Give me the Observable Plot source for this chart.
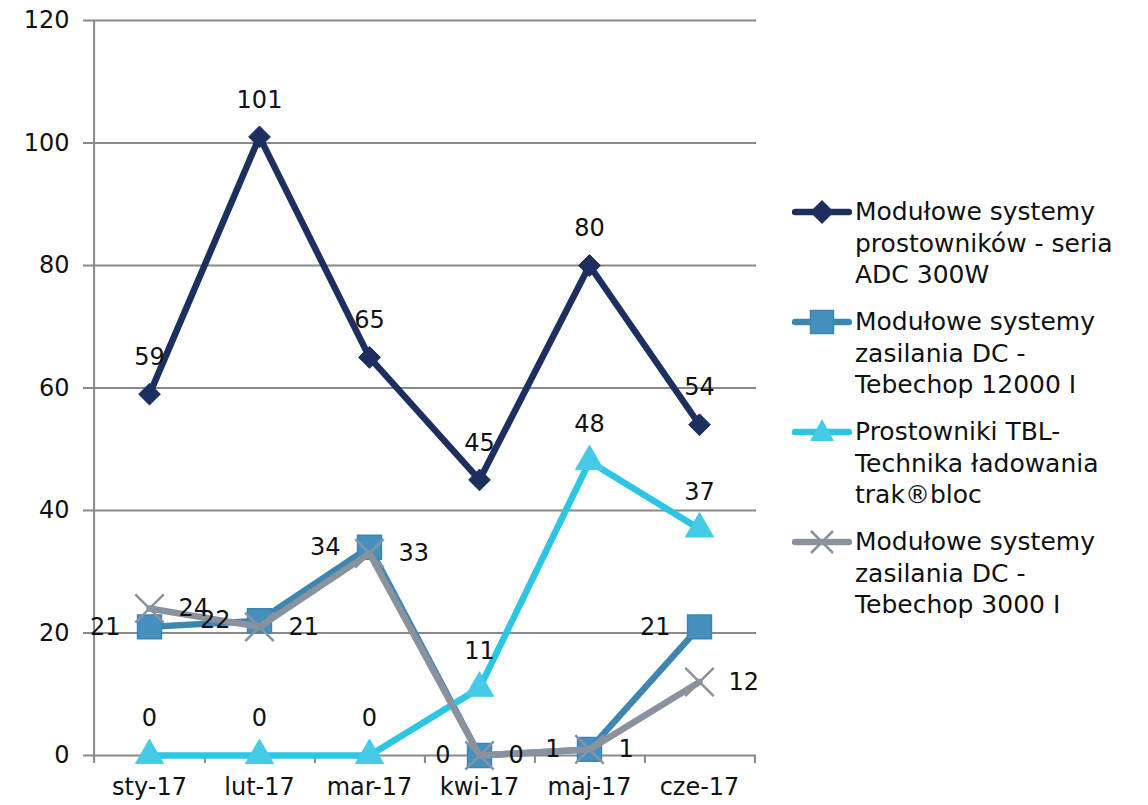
<!DOCTYPE html>
<html><head><meta charset="utf-8">
<script src="https://cdn.jsdelivr.net/npm/d3@7"></script>
<script src="https://cdn.jsdelivr.net/npm/@observablehq/plot@0.6"></script>
<style>
body{margin:0;background:#fff;font-family:"DejaVu Sans",sans-serif;}
#wrap{display:flex;width:1148px;height:805px;}
#legend{padding-top:196px;padding-left:12px;}
.item{display:flex;align-items:flex-start;margin-bottom:15.5px;}
.item svg{flex:none;}
.item div{font-size:25px;line-height:31.5px;color:#111;margin-left:3px;white-space:nowrap;}
</style></head>
<body><div id="wrap"><div id="chart"></div><div id="legend"></div></div>
<script>
const months = ["sty-17","lut-17","mar-17","kwi-17","maj-17","cze-17"];
const seriesNames = [
  "Modułowe systemy\nprostowników - seria\nADC 300W",
  "Modułowe systemy\nzasilania DC -\nTebechop 12000 I",
  "Prostowniki TBL-\nTechnika ładowania\ntrak®bloc",
  "Modułowe systemy\nzasilania DC -\nTebechop 3000 I"
];
const adc300 = [59,101,65,45,80,54];
const tebechop12000 = [21,22,34,0,1,21];
const tblTrakbloc = [0,0,0,11,48,37];
const tebechop3000 = [24,21,33,0,1,12];
const yTicks = [0,20,40,60,80,100,120];

const colors = ["#1d2f5e","#3d86b0","#2cc5e4","#8a939d"];
const markerFill = ["#1d2f5e","#4690c0","#45cbe8","#8a939d"];
const values = [adc300, tebechop12000, tblTrakbloc, tebechop3000];
const data = values.flatMap((vals, s) => vals.map((v, i) => ({s, month: months[i], v})));

const W = 780, H = 805, mL = 91, mR = 24, mT = 20, mB = 50;
const bw = (W - mL - mR) / months.length;
const gray = "#888888";

const labelOpts = [
  {dy: -37, dx: 0, textAnchor: "middle"},
  {dx: -29, dy: 0, textAnchor: "end"},
  {dy: -37, dx: 0, textAnchor: "middle"},
  {dx: 29, dy: 0, textAnchor: "start"}
];

const marks = [
  Plot.ruleY(yTicks, {stroke: gray, strokeWidth: 2}),
  Plot.ruleX([months[0]], {y1: 0, y2: 120, dx: -bw/2, stroke: gray, strokeWidth: 2}),
  Plot.ruleX(months, {y1: 0, y2: 0, dx: bw/2, insetBottom: -8, stroke: gray, strokeWidth: 2}),
  Plot.ruleX([months[0]], {y1: 0, y2: 0, dx: -bw/2, insetBottom: -8, stroke: gray, strokeWidth: 2}),
  Plot.axisY({ticks: yTicks, tickSize: 8, tickPadding: 14, stroke: gray, strokeWidth: 2, fontSize: 24, fill: "#111", label: null}),
  Plot.axisX({tickSize: 0, tickPadding: 22, fontSize: 24, fill: "#111", label: null})
];
values.forEach((vals, s) => {
  const d = data.filter(r => r.s === s);
  marks.push(Plot.line(d, {x: "month", y: "v", stroke: colors[s], strokeWidth: 6.5, strokeLinejoin: "round"}));
  if (s === 0) marks.push(Plot.dot(d, {x: "month", y: "v", symbol: "diamond2", r: 9.8, fill: markerFill[s], stroke: markerFill[s], strokeWidth: 1}));
  if (s === 1) marks.push(Plot.dot(d, {x: "month", y: "v", symbol: "square", r: 13.5, fill: markerFill[s], stroke: colors[s], strokeWidth: 1.5}));
  if (s === 2) marks.push(Plot.dot(d, {x: "month", y: "v", symbol: "triangle", r: 10.5, fill: markerFill[s], stroke: markerFill[s], strokeWidth: 1}));
  if (s === 3) marks.push(Plot.dot(d, {x: "month", y: "v", symbol: "times", r: 13, stroke: colors[s], strokeWidth: 2.5}));
});
values.forEach((vals, s) => {
  const d = data.filter(r => r.s === s);
  marks.push(Plot.text(d, {x: "month", y: "v", text: r => String(r.v), fontSize: 24, fill: "#111", ...labelOpts[s]}));
});

const chart = Plot.plot({
  width: W, height: H,
  marginLeft: mL, marginRight: mR, marginTop: mT, marginBottom: mB,
  style: {fontFamily: "DejaVu Sans, sans-serif", background: "#fff"},
  x: {type: "band", domain: months, padding: 0},
  y: {domain: [0, 120]},
  marks
});
document.getElementById("chart").appendChild(chart);

const legend = document.getElementById("legend");
const shapes = [
  '<path d="M30 4 L42 16 L30 28 L18 16 Z" fill="#1d2f5e"/>',
  '<rect x="18.5" y="4.5" width="23" height="23" fill="#4690c0" stroke="#3d86b0" stroke-width="1.5"/>',
  '<path d="M30 3 L42 25 L18 25 Z" fill="#45cbe8"/>',
  '<path d="M19 5 L41 27 M41 5 L19 27" stroke="#8a939d" stroke-width="2.5"/>'
];
seriesNames.forEach((name, s) => {
  const it = document.createElement("div");
  it.className = "item";
  it.innerHTML = `<svg width="60" height="32"><line x1="3" x2="57" y1="16" y2="16" stroke="${colors[s]}" stroke-width="6.5" stroke-linecap="round"/>${shapes[s]}</svg><div>${name.split("\n").join("<br>")}</div>`;
  legend.appendChild(it);
});
</script></body></html>
